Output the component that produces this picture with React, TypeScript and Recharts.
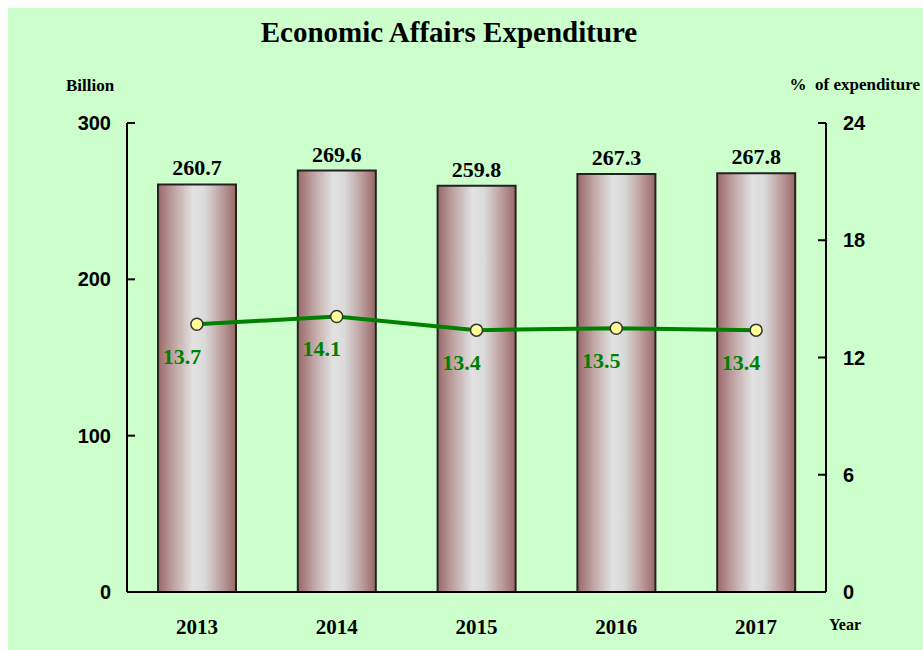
import React from 'react';
import { ComposedChart, Bar, Line, XAxis, YAxis, LabelList } from 'recharts';

const years = ['2013', '2014', '2015', '2016', '2017'];
const expenditure = [260.7, 269.6, 259.8, 267.3, 267.8];
const sharePct = [13.7, 14.1, 13.4, 13.5, 13.4];
const leftTicks = [0, 100, 200, 300];
const rightTicks = [0, 6, 12, 18, 24];

const data = years.map((y, i) => ({ year: y, amount: expenditure[i], pct: sharePct[i] }));

const serif = '"Liberation Serif", "Times New Roman", serif';
const sans = '"Liberation Sans", Arial, sans-serif';

const LeftTick = (props: any) => {
  const { x, y, payload } = props;
  return (
    <g>
      <line x1={x} x2={x + 8} y1={y} y2={y} stroke="#000" strokeWidth={2} />
      <text x={x - 16} y={y + 7} textAnchor="end" fontFamily={sans} fontWeight="bold" fontSize={20} fill="#000">
        {payload.value}
      </text>
    </g>
  );
};

const RightTick = (props: any) => {
  const { x, y, payload } = props;
  return (
    <g>
      <line x1={x - 8} x2={x} y1={y} y2={y} stroke="#000" strokeWidth={2} />
      <text x={x + 17} y={y + 7} textAnchor="start" fontFamily={sans} fontWeight="bold" fontSize={20} fill="#000">
        {payload.value}
      </text>
    </g>
  );
};

const YearTick = (props: any) => {
  const { x, y, payload } = props;
  return (
    <text x={x} y={y + 42} textAnchor="middle" fontFamily={serif} fontWeight="bold" fontSize={21} fill="#000">
      {payload.value}
    </text>
  );
};

const PctLabel = (props: any) => {
  const { x, y, value } = props;
  return (
    <text x={x - 15} y={y + 40} textAnchor="middle" fontFamily={serif} fontWeight="bold" fontSize={22} fill="#008000">
      {value}
    </text>
  );
};

const App: React.FC = () => {
  return (
    <div style={{ position: 'fixed', left: 8, top: 8, width: 915, height: 642, background: '#CCFFCC', overflow: 'visible' }}>
      <style>{'html, body { overflow: hidden; }'}</style>
      <ComposedChart width={915} height={642} data={data} margin={{ top: 115, right: 0, bottom: 0, left: 0 }}>
        <defs>
          <linearGradient id="barGrad" x1="0" y1="0" x2="1" y2="0">
            <stop offset="0%" stopColor="#9A6868" />
            <stop offset="20%" stopColor="#BFA3A3" />
            <stop offset="45%" stopColor="#E2E2E2" />
            <stop offset="60%" stopColor="#DADADA" />
            <stop offset="80%" stopColor="#BFA3A3" />
            <stop offset="100%" stopColor="#9A6868" />
          </linearGradient>
        </defs>
        <XAxis
          dataKey="year"
          height={58}
          axisLine={{ stroke: '#000', strokeWidth: 2 }}
          tickLine={false}
          tickSize={0}
          tickMargin={0}
          tick={<YearTick />}
        />
        <YAxis
          yAxisId="left"
          width={119}
          domain={[0, 300]}
          ticks={leftTicks}
          axisLine={{ stroke: '#000', strokeWidth: 2 }}
          tickLine={false}
          tickSize={0}
          tickMargin={0}
          tick={<LeftTick />}
        />
        <YAxis
          yAxisId="right"
          orientation="right"
          width={97}
          domain={[0, 24]}
          ticks={rightTicks}
          axisLine={{ stroke: '#000', strokeWidth: 2 }}
          tickLine={false}
          tickSize={0}
          tickMargin={0}
          tick={<RightTick />}
        />
        <Bar yAxisId="left" dataKey="amount" barSize={78} fill="url(#barGrad)" stroke="#222" strokeWidth={2} isAnimationActive={false}>
          <LabelList dataKey="amount" position="top" offset={9} fontFamily={serif} fontWeight="bold" fontSize={22} fill="#000" />
        </Bar>
        <Line
          yAxisId="right"
          type="linear"
          dataKey="pct"
          stroke="#008000"
          strokeWidth={4}
          dot={{ r: 6, fill: '#FFFF99', stroke: '#333', strokeWidth: 1.5 }}
          isAnimationActive={false}
        >
          <LabelList dataKey="pct" content={<PctLabel />} />
        </Line>
      </ComposedChart>
      <svg width={915} height={642} style={{ position: 'absolute', left: 0, top: 0, pointerEvents: 'none', overflow: 'visible' }}>
        <text x={441} y={34} textAnchor="middle" fontFamily={serif} fontWeight="bold" fontSize={29} fill="#000">
          Economic Affairs Expenditure
        </text>
        <text x={58} y={83} fontFamily={serif} fontWeight="bold" fontSize={17} fill="#000">
          Billion
        </text>
        <text x={912} y={82} textAnchor="end" fontFamily={serif} fontWeight="bold" fontSize={17} fill="#000" style={{ whiteSpace: 'pre' }}>
          {'%  of expenditure'}
        </text>
        <text x={821} y={622} fontFamily={serif} fontWeight="bold" fontSize={16} fill="#000">
          Year
        </text>
      </svg>
    </div>
  );
};

export default App;
